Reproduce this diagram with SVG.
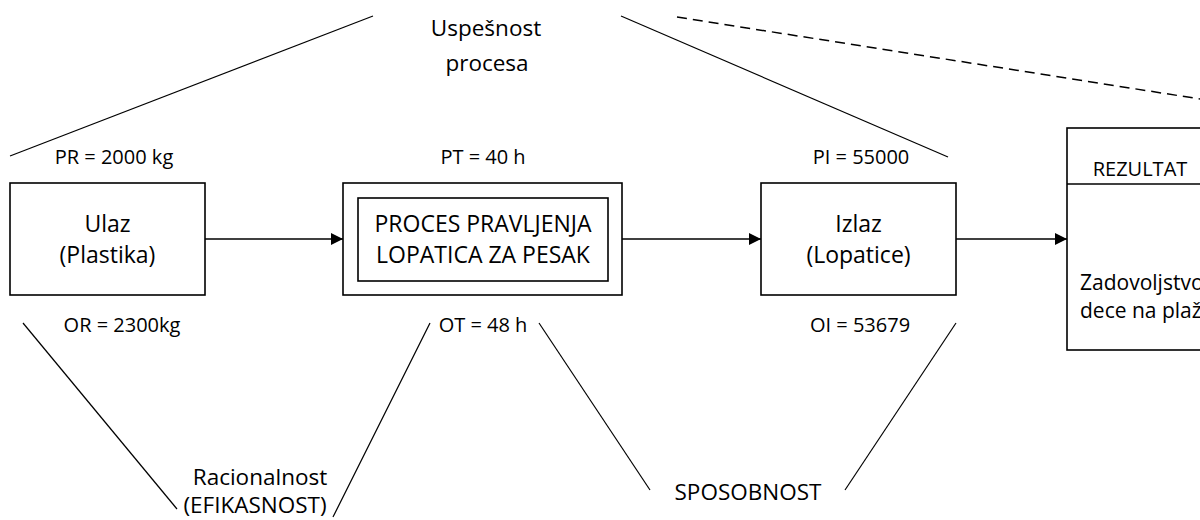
<svg xmlns="http://www.w3.org/2000/svg" width="1200" height="520" viewBox="0 0 1200 520">
<defs>
<style>
text{font-family:"Open Sans","Noto Sans","Liberation Sans",sans-serif;fill:#000;text-anchor:middle}
.box{fill:#fff;stroke:#000;stroke-width:1.6}
.ln{stroke:#000;stroke-width:1.2;fill:none}
.dash{stroke:#000;stroke-width:1.5;fill:none;stroke-dasharray:10 6}
.conn{stroke:#000;stroke-width:1.5;fill:none}
.big{font-size:23px}
.lbl{font-size:20px}
.cap{font-size:22.5px}
</style>
<marker id="arr" viewBox="0 0 12 12" refX="12" refY="6" markerWidth="12" markerHeight="12" markerUnits="userSpaceOnUse" orient="auto">
<path d="M0,0 L12,6 L0,12 Z" fill="#000"/>
</marker>
</defs>
<rect width="1200" height="520" fill="#fff"/>
<g id="guides">
<line class="ln" x1="10" y1="156" x2="373" y2="16"/>
<line class="ln" x1="621" y1="16" x2="948" y2="157"/>
<line class="dash" x1="677" y1="17" x2="1200" y2="99"/>
<line class="ln" x1="23" y1="323" x2="177" y2="509"/>
<line class="ln" x1="333" y1="517" x2="430" y2="323"/>
<line class="ln" x1="539" y1="323" x2="650" y2="490"/>
<line class="ln" x1="845" y1="490" x2="956" y2="323"/>
</g>
<g id="connectors">
<line class="conn" x1="205" y1="239" x2="343" y2="239" marker-end="url(#arr)"/>
<line class="conn" x1="622" y1="239" x2="761" y2="239" marker-end="url(#arr)"/>
<line class="conn" x1="956" y1="239" x2="1067" y2="239" marker-end="url(#arr)"/>
</g>
<g id="ulaz">
<rect class="box" x="10" y="183" width="195" height="112"/>
<text class="big" x="107.5" y="232">Ulaz</text>
<text class="big" x="107.5" y="263">(Plastika)</text>
</g>
<g id="proces">
<rect class="box" x="343" y="183" width="279" height="112"/>
<rect class="box" x="358" y="198" width="250" height="83"/>
<text class="big" x="483" y="232">PROCES PRAVLJENJA</text>
<text class="big" x="483" y="263">LOPATICA ZA PESAK</text>
</g>
<g id="izlaz">
<rect class="box" x="761" y="183" width="195" height="112"/>
<text class="big" x="858.5" y="232">Izlaz</text>
<text class="big" x="858.5" y="263">(Lopatice)</text>
</g>
<g id="rezultat">
<rect class="box" x="1067" y="128" width="200" height="222"/>
<line class="conn" x1="1067" y1="184" x2="1200" y2="184"/>
<text class="lbl" x="1140" y="176">REZULTAT</text>
<text class="lbl" x="1080" y="290" style="text-anchor:start;font-size:21px">Zadovoljstvo</text>
<text class="lbl" x="1080" y="318" style="text-anchor:start;font-size:21px">dece na plaži</text>
</g>
<g id="labels">
<text class="lbl" x="114" y="164">PR = 2000 kg</text>
<text class="lbl" x="483" y="164">PT = 40 h</text>
<text class="lbl" x="861" y="164">PI = 55000</text>
<text class="lbl" x="122" y="332">OR = 2300kg</text>
<text class="lbl" x="483" y="332">OT = 48 h</text>
<text class="lbl" x="860" y="332">OI = 53679</text>
</g>
<g id="uspesnost">
<text class="cap" x="486" y="36">Uspešnost</text>
<text class="cap" x="487" y="71">procesa</text>
</g>
<g id="racionalnost">
<text class="cap" x="260" y="485">Racionalnost</text>
<text class="cap" x="255" y="513">(EFIKASNOST)</text>
</g>
<g id="sposobnost">
<text class="cap" x="748" y="500">SPOSOBNOST</text>
</g>
</svg>
